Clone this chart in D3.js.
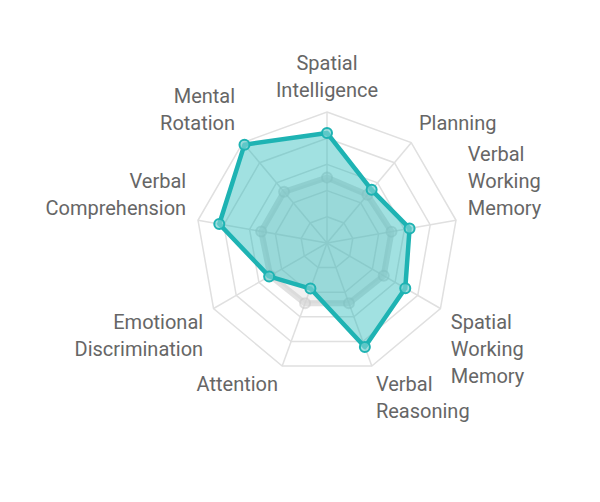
<!DOCTYPE html>
<html>
<head>
<meta charset="utf-8">
<script src="https://cdn.jsdelivr.net/npm/d3@7"></script>
<style>
  body { margin: 0; background: #fff; }
  text { font-family: Roboto, "Noto Sans", sans-serif; }
</style>
</head>
<body>
<div id="chart"></div>
<script>
// axis labels, clockwise from the top
var categories = [
    ['Spatial', 'Intelligence']
  , ['Planning']
  , ['Verbal', 'Working', 'Memory']
  , ['Spatial', 'Working', 'Memory']
  , ['Verbal', 'Reasoning']
  , ['Attention']
  , ['Emotional', 'Discrimination']
  , ['Verbal', 'Comprehension']
  , ['Mental', 'Rotation']
];
var scoreValues    = [0.84, 0.53, 0.64, 0.69, 0.845, 0.37, 0.51, 0.835, 0.98];
var baselineValues = [0.50, 0.48, 0.50, 0.50, 0.49, 0.49, 0.50, 0.51, 0.51];
var ringLevels = [0.2, 0.4, 0.6, 0.8, 1.0];

var width = 600, height = 502;
var cx = 327, cy = 243, radius = 131;
var n = categories.length;

var svg = d3.select('#chart').append('svg')
    .attr('width', width)
    .attr('height', height);

var r = d3.scaleLinear().domain([0, 1]).range([0, radius]);
var angle = d3.scaleLinear().domain([0, n]).range([0, 2 * Math.PI]);

function pt(i, v) {
  var a = angle(i);
  return [cx + r(v) * Math.sin(a), cy - r(v) * Math.cos(a)];
}

var g = svg.append('g');

// grid rings
g.selectAll('.ring')
  .data(ringLevels)
  .enter().append('polygon')
    .attr('points', function(lv) {
      return d3.range(n).map(function(i) { return pt(i, lv).join(','); }).join(' ');
    })
    .attr('fill', 'none')
    .attr('stroke', '#e0e0e0')
    .attr('stroke-width', 1.5);

// spokes
g.selectAll('.spoke')
  .data(d3.range(n))
  .enter().append('line')
    .attr('x1', cx).attr('y1', cy)
    .attr('x2', function(i) { return pt(i, 1)[0]; })
    .attr('y2', function(i) { return pt(i, 1)[1]; })
    .attr('stroke', '#e0e0e0')
    .attr('stroke-width', 1.5);

var line = d3.line().curve(d3.curveLinearClosed);

function drawSeries(values, fill, stroke, sw, dotFill) {
  var pts = values.map(function(v, i) { return pt(i, v); });
  g.append('path')
    .attr('d', line(pts))
    .attr('fill', fill)
    .attr('stroke', stroke)
    .attr('stroke-width', sw)
    .attr('stroke-linejoin', 'round');
  g.selectAll(null)
    .data(pts)
    .enter().append('circle')
      .attr('cx', function(d) { return d[0]; })
      .attr('cy', function(d) { return d[1]; })
      .attr('r', 5)
      .attr('fill', dotFill)
      .attr('stroke', stroke)
      .attr('stroke-width', 2);
}

drawSeries(baselineValues, 'rgba(200,200,200,0.25)', 'rgba(200,200,200,0.55)', 6, 'rgba(220,220,220,0.4)');
drawSeries(scoreValues, 'rgba(32,183,183,0.42)', '#1eb3b3', 4.5, 'rgba(120,210,210,0.7)');

// labels
var lineH = 27, labelR = 143;
categories.forEach(function(lines, i) {
  var a = angle(i);
  var s = Math.sin(a), c = Math.cos(a);
  var p = [cx + labelR * s, cy - labelR * c];
  var anchor = Math.abs(s) < 0.1 ? 'middle' : (s > 0 ? 'start' : 'end');
  var h = lines.length * lineH;
  var top = c > 0 ? p[1] - h + 4 : p[1] - 6;
  var t = svg.append('text')
      .attr('text-anchor', anchor)
      .attr('fill', '#666')
      .attr('font-size', 20);
  lines.forEach(function(l, j) {
    t.append('tspan')
      .attr('x', p[0])
      .attr('y', top + j * lineH + 20)
      .text(l);
  });
});
</script>
</body>
</html>
